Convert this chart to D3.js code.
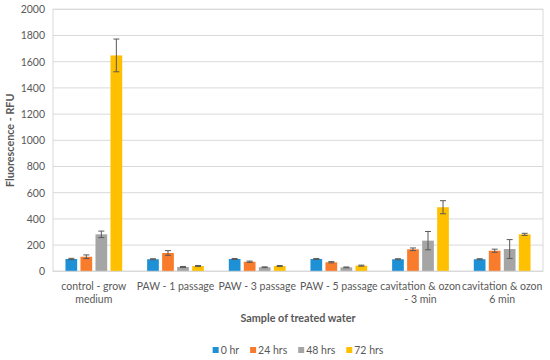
<!DOCTYPE html>
<html lang="en">
<head>
  <meta charset="UTF-8">
  <title>Fluorescence - RFU</title>
  <script src="https://d3js.org/d3.v7.min.js"></script>
  <style>
    body { margin: 0; background: #fff; }
    svg { font-family: Lato, sans-serif; }
    .tick text { fill: #595959; font-size: 10.5px; }
    .title { fill: #595959; font-size: 10.8px; font-weight: bold; }
    .legend text { fill: #595959; font-size: 10.5px; }
  </style>
</head>
<body>
  <svg width="550" height="360"></svg>
  <script>
    // data
    const categories = [
      ["control - grow", "medium"],
      ["PAW - 1 passage"],
      ["PAW - 3 passage"],
      ["PAW - 5 passage"],
      ["cavitation & ozon", "- 3 min"],
      ["cavitation & ozon", "6 min"]
    ];
    const series = ["0 hr", "24 hrs", "48 hrs", "72 hrs"];
    const colors = ["#1E91D6", "#F97B2C", "#A5A5A5", "#FFC000"];

    const hr0 = [94, 92, 94, 94, 92, 92];
    const hr24 = [111, 140, 73, 69, 168, 157];
    const hr48 = [282, 33, 31, 30, 234, 170];
    const hr72 = [1648, 40, 40, 43, 489, 282];

    const err0 = [5, 4, 4, 4, 4, 4];
    const err24 = [14, 18, 5, 5, 10, 12];
    const err48 = [25, 4, 3, 3, 70, 72];
    const err72 = [125, 4, 4, 4, 50, 8];

    const yTicks = [0, 200, 400, 600, 800, 1000, 1200, 1400, 1600, 1800, 2000];

    const values = [hr0, hr24, hr48, hr72];
    const errors = [err0, err24, err48, err72];

    const svg = d3.select("svg");
    const plotL = 53, plotR = 543, plotT = 9.3, plotB = 271.3;

    const x0 = d3.scaleBand()
      .domain(d3.range(categories.length))
      .range([plotL, plotR]);

    const x1 = d3.scaleBand()
      .domain(d3.range(series.length))
      .range([0, x0.bandwidth()])
      .paddingInner(0.22)
      .paddingOuter(0.83);

    const y = d3.scaleLinear().domain([0, 2000]).range([plotB, plotT]);

    // gridlines
    svg.append("g")
      .selectAll("line")
      .data(yTicks)
      .join("line")
      .attr("x1", plotL).attr("x2", plotR)
      .attr("y1", d => y(d)).attr("y2", d => y(d))
      .attr("stroke", "#D9D9D9")
      .attr("stroke-width", 1);

    // plot border
    svg.append("rect")
      .attr("x", plotL).attr("y", plotT)
      .attr("width", plotR - plotL).attr("height", plotB - plotT)
      .attr("fill", "none")
      .attr("stroke", "#D9D9D9");

    // y axis
    const yAxis = svg.append("g")
      .attr("transform", `translate(${plotL},0)`)
      .call(d3.axisLeft(y).tickValues(yTicks).tickFormat(d3.format("d")).tickSize(0).tickPadding(8));
    yAxis.select(".domain").remove();
    yAxis.attr("font-family", null).attr("font-size", null);

    // bars
    const groups = svg.append("g")
      .selectAll("g")
      .data(categories)
      .join("g")
      .attr("transform", (d, i) => `translate(${x0(i)},0)`);

    groups.selectAll("rect")
      .data((d, i) => series.map((s, j) => ({ j, v: values[j][i], e: errors[j][i] })))
      .join("rect")
      .attr("x", d => x1(d.j))
      .attr("y", d => y(d.v))
      .attr("width", x1.bandwidth())
      .attr("height", d => y(0) - y(d.v))
      .attr("fill", d => colors[d.j]);

    // error bars
    const eb = groups.selectAll("g.err")
      .data((d, i) => series.map((s, j) => ({ j, v: values[j][i], e: errors[j][i] })))
      .join("g")
      .attr("class", "err")
      .attr("stroke", "#595959")
      .attr("stroke-width", 1);
    eb.append("line")
      .attr("x1", d => x1(d.j) + x1.bandwidth() / 2)
      .attr("x2", d => x1(d.j) + x1.bandwidth() / 2)
      .attr("y1", d => y(d.v + d.e))
      .attr("y2", d => y(d.v - d.e));
    eb.selectAll("line.cap")
      .data(d => [d.v + d.e, d.v - d.e].map(t => ({ j: d.j, t })))
      .join("line")
      .attr("class", "cap")
      .attr("x1", d => x1(d.j) + x1.bandwidth() / 2 - 3)
      .attr("x2", d => x1(d.j) + x1.bandwidth() / 2 + 3)
      .attr("y1", d => y(d.t))
      .attr("y2", d => y(d.t));

    // baseline
    svg.append("line")
      .attr("x1", plotL).attr("x2", plotR)
      .attr("y1", plotB).attr("y2", plotB)
      .attr("stroke", "#D9D9D9");

    // category labels
    const xl = svg.append("g").attr("class", "tick");
    categories.forEach((lines, i) => {
      const t = xl.append("text")
        .attr("text-anchor", "middle")
        .attr("x", x0(i) + x0.bandwidth() / 2)
        .attr("y", 289.5);
      lines.forEach((ln, k) => {
        t.append("tspan")
          .attr("x", x0(i) + x0.bandwidth() / 2)
          .attr("dy", k === 0 ? 0 : 13.5)
          .text(ln);
      });
    });

    // axis titles
    svg.append("text")
      .attr("class", "title")
      .attr("text-anchor", "middle")
      .attr("x", (plotL + plotR) / 2)
      .attr("y", 321.5)
      .text("Sample of treated water");

    svg.append("text")
      .attr("class", "title")
      .attr("text-anchor", "middle")
      .attr("transform", `translate(14,${(plotT + plotB) / 2}) rotate(-90)`)
      .text("Fluorescence - RFU");

    // legend
    const legend = svg.append("g").attr("class", "legend");
    const items = series.map((s, j) => {
      const g = legend.append("g");
      g.append("rect").attr("width", 6).attr("height", 6).attr("y", -3).attr("fill", colors[j]);
      const t = g.append("text").attr("x", 8).attr("y", 4).text(s);
      return { g, w: 8 + t.node().getComputedTextLength() };
    });
    const gap = 11;
    const total = d3.sum(items, d => d.w) + gap * (items.length - 1);
    let lx = (plotL + plotR) / 2 - total / 2;
    items.forEach(it => {
      it.g.attr("transform", `translate(${lx},350)`);
      lx += it.w + gap;
    });
  </script>
</body>
</html>
